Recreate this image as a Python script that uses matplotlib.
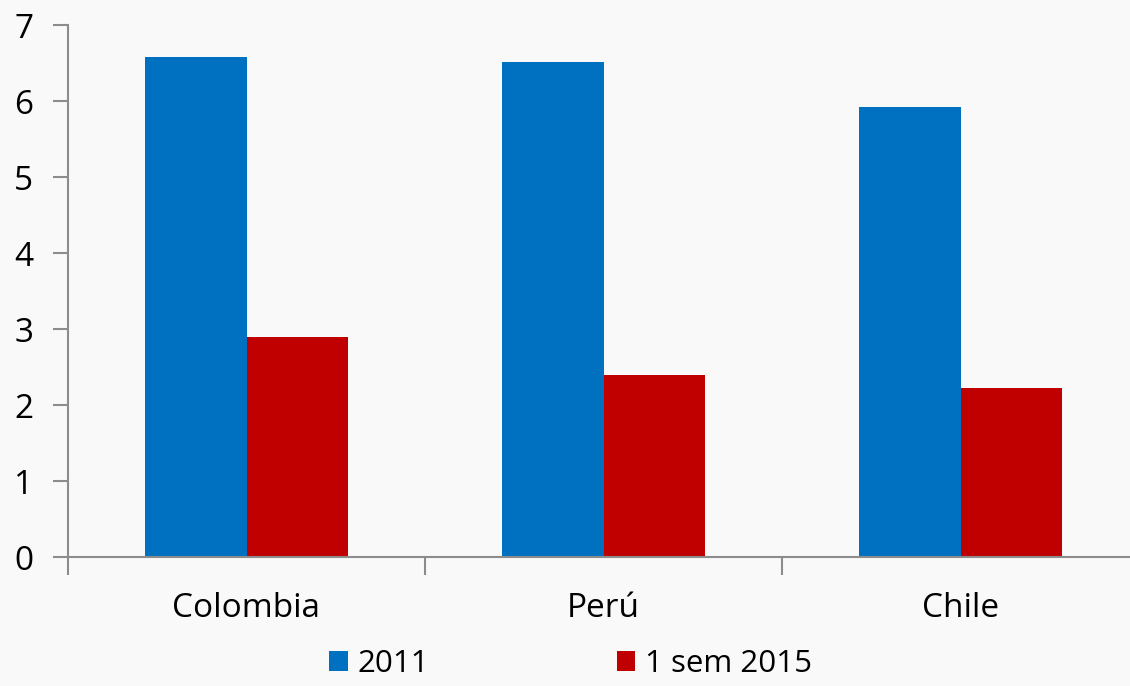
import numpy as np
import matplotlib.pyplot as plt

# data
countries = ["Colombia", "Perú", "Chile"]
vals_2011 = [6.58, 6.51, 5.92]
vals_2015 = [2.89, 2.39, 2.22]
series_names = ["2011", "1 sem 2015"]

blue = "#0070C0"
red = "#C00000"
bg = "#F9F9F9"
axis_col = "#8C8C8C"

plt.rcParams['font.family'] = ['Open Sans', 'DejaVu Sans']

fig = plt.figure(figsize=(11.3, 6.86), dpi=100, facecolor=bg)
ax = fig.add_axes([68/1130, 129/686, 1071/1130, 532/686])
ax.set_facecolor(bg)

x = np.arange(len(countries))
w = 0.285
b1 = ax.bar(x - w/2, vals_2011, w, color=blue, label=series_names[0])
b2 = ax.bar(x + w/2, vals_2015, w, color=red, label=series_names[1])

ax.set_ylim(0, 7)
ax.set_xlim(-0.5, 2.5)
ax.set_yticks(range(0, 8))
ax.set_xticks(x)
ax.set_xticklabels(countries)
ax.set_xticks(np.arange(-0.5, 2.6, 1), minor=True)
ax.tick_params(axis='x', which='major', length=0, pad=25, labelsize=24)
ax.tick_params(axis='x', which='minor', length=13, width=1.5, color=axis_col)
ax.tick_params(axis='y', length=11, width=1.5, color=axis_col, labelsize=24, pad=14)

for s in ["top", "right"]:
    ax.spines[s].set_visible(False)
for s in ["left", "bottom"]:
    ax.spines[s].set_color(axis_col)
    ax.spines[s].set_linewidth(1.5)
ax.spines["left"].set_bounds(0, 7)

fig.legend(handles=[b1, b2], labels=series_names, loc="lower center",
           bbox_to_anchor=(0.505, -0.013), ncol=2, frameon=False, fontsize=22.5,
           borderpad=0, handlelength=0.6, handleheight=0.6, handletextpad=0.3,
           columnspacing=6.0)

fig.savefig("out.png", dpi=100, facecolor=bg)
